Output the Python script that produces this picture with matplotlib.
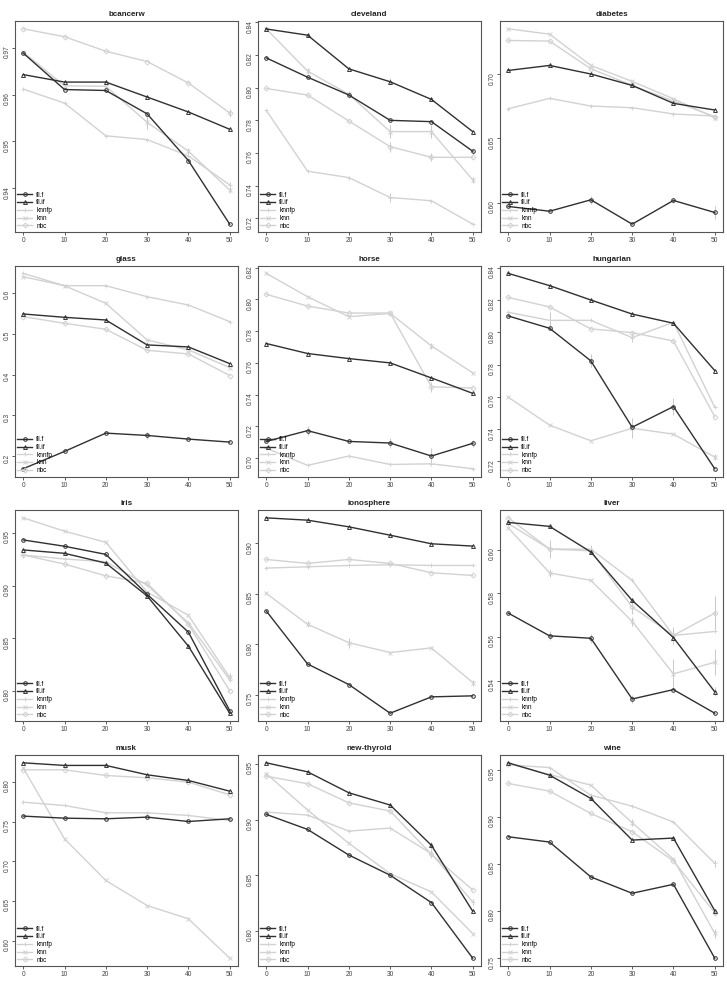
import matplotlib
matplotlib.use('Agg')
import matplotlib.pyplot as plt
from matplotlib.ticker import MaxNLocator, ScalarFormatter
import numpy as np

plt.rcParams['font.family'] = ['Liberation Sans', 'DejaVu Sans']

datasets = ['bcancerw', 'cleveland', 'diabetes', 'glass', 'horse', 'hungarian',
            'iris', 'ionosphere', 'liver', 'musk', 'new-thyroid', 'wine']
noise = [0, 10, 20, 30, 40, 50]

# accuracy per data set, one row per data set (same order as `datasets`)
fil_f = [
    [0.9689, 0.9611, 0.9609, 0.9559, 0.9459, 0.9323],
    [0.8182, 0.8064, 0.7955, 0.7800, 0.7792, 0.7611],
    [0.5969, 0.5932, 0.6021, 0.5831, 0.6016, 0.5922],
    [0.1699, 0.2122, 0.2569, 0.2512, 0.2423, 0.2350],
    [0.7105, 0.7173, 0.7105, 0.7095, 0.7013, 0.7093],
    [0.8101, 0.8025, 0.7823, 0.7412, 0.7540, 0.7155],
    [0.9433, 0.9373, 0.9296, 0.8917, 0.8557, 0.7812],
    [0.8331, 0.7806, 0.7602, 0.7318, 0.7480, 0.7490],
    [0.5709, 0.5605, 0.5594, 0.5316, 0.5359, 0.5251],
    [0.7571, 0.7545, 0.7537, 0.7558, 0.7503, 0.7537],
    [0.9046, 0.8911, 0.8681, 0.8500, 0.8254, 0.7755],
    [0.8787, 0.8731, 0.8361, 0.8188, 0.8283, 0.7500],
]
fil_if = [
    [0.9643, 0.9627, 0.9627, 0.9595, 0.9563, 0.9526],
    [0.8359, 0.8321, 0.8115, 0.8036, 0.7928, 0.7731],
    [0.7031, 0.7070, 0.7003, 0.6914, 0.6774, 0.6722],
    [0.5480, 0.5398, 0.5333, 0.4724, 0.4675, 0.4268],
    [0.7722, 0.7659, 0.7627, 0.7600, 0.7505, 0.7408],
    [0.8365, 0.8289, 0.8200, 0.8113, 0.8056, 0.7763],
    [0.9338, 0.9306, 0.9213, 0.8901, 0.8424, 0.7787],
    [0.9254, 0.9231, 0.9165, 0.9082, 0.8997, 0.8974],
    [0.6124, 0.6106, 0.5989, 0.5767, 0.5597, 0.5349],
    [0.8244, 0.8211, 0.8211, 0.8093, 0.8021, 0.7886],
    [0.9509, 0.9428, 0.9240, 0.9130, 0.8768, 0.8176],
    [0.9571, 0.9440, 0.9193, 0.8752, 0.8773, 0.8004],
]
knnfp = [
    [0.9612, 0.9582, 0.9512, 0.9504, 0.9469, 0.9407],
    [0.7861, 0.7489, 0.7450, 0.7328, 0.7308, 0.7165],
    [0.6732, 0.6813, 0.6753, 0.6740, 0.6691, 0.6675],
    [0.6472, 0.6171, 0.6171, 0.5902, 0.5699, 0.5293],
    [0.7063, 0.6954, 0.7013, 0.6960, 0.6964, 0.6933],
    [0.8124, 0.8074, 0.8074, 0.7967, 0.8062, 0.7536],
    [0.9290, 0.9252, 0.9226, 0.9003, 0.8646, 0.8105],
    [0.8756, 0.8769, 0.8782, 0.8789, 0.8782, 0.8782],
    [0.6119, 0.6002, 0.6002, 0.5859, 0.5607, 0.5625],
    [0.7747, 0.7705, 0.7613, 0.7613, 0.7579, 0.7516],
    [0.9067, 0.9040, 0.8896, 0.8923, 0.8693, 0.8260],
    [0.9549, 0.9521, 0.9228, 0.9112, 0.8943, 0.8505],
]
knn = [
    [0.9691, 0.9619, 0.9618, 0.9541, 0.9479, 0.9396],
    [0.8360, 0.8101, 0.7959, 0.7731, 0.7731, 0.7436],
    [0.7356, 0.7314, 0.7070, 0.6945, 0.6810, 0.6662],
    [0.6390, 0.6170, 0.5740, 0.4846, 0.4602, 0.4171],
    [0.8164, 0.8017, 0.7891, 0.7912, 0.7707, 0.7537],
    [0.7598, 0.7425, 0.7328, 0.7406, 0.7369, 0.7227],
    [0.9643, 0.9516, 0.9411, 0.8939, 0.8717, 0.8127],
    [0.8505, 0.8199, 0.8017, 0.7919, 0.7965, 0.7622],
    [0.6099, 0.5893, 0.5859, 0.5671, 0.5431, 0.5484],
    [0.8177, 0.7284, 0.6758, 0.6442, 0.6274, 0.5777],
    [0.9413, 0.9085, 0.8786, 0.8514, 0.8350, 0.7976],
    [0.9563, 0.9447, 0.9334, 0.8936, 0.8548, 0.7764],
]
nbc = [
    [0.9741, 0.9724, 0.9693, 0.9671, 0.9625, 0.9561],
    [0.7995, 0.7955, 0.7796, 0.7639, 0.7574, 0.7574],
    [0.7265, 0.7260, 0.7044, 0.6914, 0.6792, 0.6670],
    [0.5415, 0.5252, 0.5106, 0.4593, 0.4504, 0.3976],
    [0.8032, 0.7958, 0.7914, 0.7914, 0.7449, 0.7442],
    [0.8216, 0.8157, 0.8021, 0.7998, 0.7946, 0.7478],
    [0.9290, 0.9204, 0.9092, 0.9022, 0.8631, 0.8000],
    [0.8842, 0.8802, 0.8842, 0.8802, 0.8710, 0.8683],
    [0.6145, 0.6002, 0.5994, 0.5737, 0.5607, 0.5709],
    [0.8156, 0.8156, 0.8084, 0.8055, 0.8000, 0.7840],
    [0.9389, 0.9321, 0.9150, 0.9076, 0.8687, 0.8368],
    [0.9352, 0.9271, 0.9034, 0.8840, 0.8530, 0.7983],
]

# the visible error bars: (data set, method, noise level, half width)
error_bars = [
    ('bcancerw', 'nbc', 50, 0.0008),
    ('bcancerw', 'knn', 30, 0.0014), ('bcancerw', 'knn', 40, 0.0008),
    ('bcancerw', 'knnfp', 50, 0.0006), ('bcancerw', 'knn', 50, 0.0006),
    ('cleveland', 'knn', 10, 0.002), ('cleveland', 'knn', 20, 0.002),
    ('cleveland', 'nbc', 30, 0.003), ('cleveland', 'knn', 30, 0.004),
    ('cleveland', 'knn', 40, 0.004), ('cleveland', 'nbc', 40, 0.0025),
    ('cleveland', 'knnfp', 30, 0.003), ('cleveland', 'knn', 50, 0.002),
    ('cleveland', 'fil.f', 50, 0.002), ('cleveland', 'fil.if', 30, 0.002),
    ('diabetes', 'fil.f', 20, 0.003), ('diabetes', 'fil.f', 50, 0.005),
    ('diabetes', 'fil.f', 40, 0.002), ('diabetes', 'knn', 50, 0.002),
    ('glass', 'fil.f', 30, 0.008),
    ('horse', 'fil.f', 10, 0.003), ('horse', 'fil.f', 30, 0.003),
    ('horse', 'fil.f', 40, 0.005), ('horse', 'fil.f', 50, 0.002),
    ('horse', 'knn', 40, 0.002), ('horse', 'nbc', 40, 0.003),
    ('hungarian', 'knnfp', 10, 0.005), ('hungarian', 'fil.f', 20, 0.004),
    ('hungarian', 'fil.f', 30, 0.006), ('hungarian', 'knn', 30, 0.006),
    ('hungarian', 'fil.f', 40, 0.005), ('hungarian', 'knnfp', 30, 0.003),
    ('hungarian', 'knn', 50, 0.002),
    ('iris', 'knn', 50, 0.004),
    ('ionosphere', 'knn', 10, 0.003), ('ionosphere', 'knn', 20, 0.005),
    ('ionosphere', 'knn', 50, 0.003),
    ('liver', 'knnfp', 10, 0.004), ('liver', 'knn', 10, 0.002),
    ('liver', 'knnfp', 20, 0.002), ('liver', 'knn', 30, 0.002),
    ('liver', 'nbc', 30, 0.003), ('liver', 'knnfp', 40, 0.004),
    ('liver', 'knn', 40, 0.007), ('liver', 'nbc', 50, 0.008),
    ('liver', 'knn', 50, 0.006), ('liver', 'fil.f', 10, 0.002),
    ('liver', 'fil.f', 20, 0.002), ('liver', 'fil.if', 40, 0.003),
    ('liver', 'fil.f', 30, 0.002), ('liver', 'fil.if', 50, 0.002),
    ('new-thyroid', 'fil.if', 40, 0.003), ('new-thyroid', 'knnfp', 40, 0.004),
    ('new-thyroid', 'knnfp', 30, 0.002), ('new-thyroid', 'knnfp', 50, 0.003),
    ('wine', 'knnfp', 50, 0.004), ('wine', 'knn', 30, 0.004),
    ('wine', 'knn', 50, 0.005), ('wine', 'nbc', 50, 0.003),
]

methods = ['fil.f', 'fil.if', 'knnfp', 'knn', 'nbc']
values = [fil_f, fil_if, knnfp, knn, nbc]

dark = '#303030'
light = '#d2d2d2'
err_col = '#c8c8c8'
styles = {
    'fil.f': (dark, 'o', 2.6, 3),
    'fil.if': (dark, '^', 2.8, 3),
    'knnfp': (light, '+', 3.5, 2),
    'knn': (light, 'x', 2.8, 2),
    'nbc': (light, 'D', 2.6, 2),
}

fig = plt.figure(figsize=(7.27, 9.85), dpi=100)
lefts = [0.0206, 0.3549, 0.6878]
bottoms = [0.7645, 0.5162, 0.268, 0.0193]
w, h = 0.3067, 0.2142

for i, name in enumerate(datasets):
    ax = fig.add_axes([lefts[i % 3], bottoms[i // 3], w, h])
    lo, hi = [], []
    for m, vals in zip(methods, values):
        col, mk, ms, z = styles[m]
        y = np.array(vals[i])
        err = np.zeros(len(noise))
        for d, mm, x, e in error_bars:
            if d == name and mm == m:
                err[noise.index(x)] = e
        ax.plot(noise, y, color=col, marker=mk, ms=ms, mfc='none', mew=0.7,
                lw=1.0, label=m, zorder=z)
        ax.vlines(noise, y - err, y + err, color=err_col, lw=0.7, zorder=1.5)
        lo.append((y - err).min())
        hi.append((y + err).max())
    # R style 4% padding
    ymin, ymax = min(lo), max(hi)
    pad = 0.04 * (ymax - ymin)
    ax.set_ylim(ymin - pad, ymax + pad)
    ax.set_xlim(-2, 52)
    ax.set_xticks(noise)
    ax.yaxis.set_major_locator(MaxNLocator(nbins=7, steps=[1, 2, 5, 10]))
    ax.yaxis.set_major_formatter(ScalarFormatter(useOffset=False))
    ax.tick_params(axis='both', labelsize=4.8, length=2.2, width=0.6,
                   colors='#444444', pad=1.5)
    ax.tick_params(axis='y', labelrotation=90, pad=1.0)
    for sp in ax.spines.values():
        sp.set_color('#555555')
        sp.set_linewidth(0.8)
    ax.set_title(name, fontsize=5.8, fontweight='bold', pad=3.5, color='#222222')
    ax.legend(loc='lower left', frameon=False, fontsize=4.7, handlelength=2.3,
              borderaxespad=0.15, borderpad=0.2, labelspacing=0.12,
              handletextpad=0.6)

fig.savefig('out.png', dpi=100)
